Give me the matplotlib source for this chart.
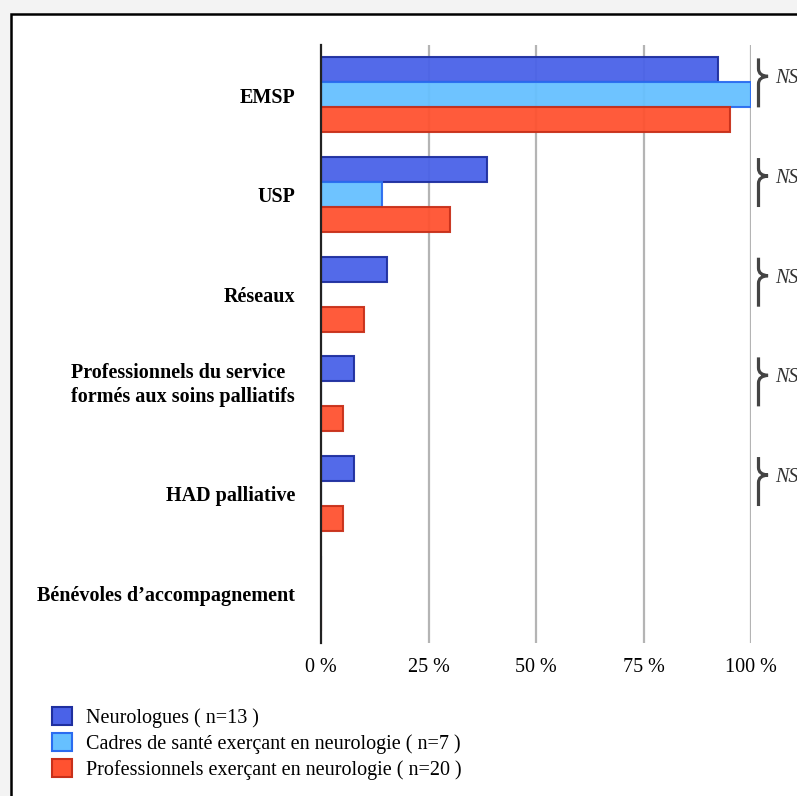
import numpy as np
import matplotlib
matplotlib.use("Agg")
import matplotlib.pyplot as plt
from matplotlib.patches import Rectangle, Patch, PathPatch
from matplotlib.path import Path

plt.rcParams['font.family'] = ['Liberation Serif', 'DejaVu Serif']

# Data (percentages)
categories = ['EMSP', 'USP', 'Réseaux',
              'Professionnels du service\nformés aux soins palliatifs',
              'HAD palliative', "Bénévoles d\u2019accompagnement"]
neurologues = [92.3, 38.5, 15.4, 7.7, 7.7, 0]
cadres = [100, 14.3, 0, 0, 0, 0]
professionnels = [95, 30, 10, 5, 5, 0]
significance = ['NS', 'NS', 'NS', 'NS', 'NS', '']
series_labels = ['Neurologues ( n=13 )',
                 'Cadres de santé exerçant en neurologie ( n=7 )',
                 'Professionnels exerçant en neurologie ( n=20 )']
xticks = [0, 25, 50, 75, 100]

fills = ['#4a62e8', '#66c0ff', '#ff5230']
edges = ['#1f2f9f', '#2b6cf0', '#c8301a']

W, H = 797, 796
fig = plt.figure(figsize=(W / 100, H / 100), dpi=100, facecolor='#f3f3f3')

# white page with black frame (continues past right/bottom edges)
fig.patches.append(Rectangle((10.7 / W, -0.1), 1.2, 1 - 14 / H + 0.1,
                             transform=fig.transFigure, facecolor='white',
                             edgecolor='black', linewidth=1.8, zorder=-5))

ax = fig.add_axes([321 / W, 1 - 643 / H, 430 / W, 598 / H])
ax.set_facecolor('none')

y = np.arange(len(categories))
bh = 0.25
for i, (vals, fc, ec) in enumerate(zip([neurologues, cadres, professionnels], fills, edges)):
    ax.barh(y + (i - 1) * bh, vals, height=bh, color=fc, edgecolor=ec,
            linewidth=1.5, alpha=0.95, zorder=3)

ax.set_xlim(0, 100)
ax.set_ylim(len(categories) - 0.5, -0.5)
ax.set_xticks(xticks)
ax.set_xticklabels([f'{t} %' for t in xticks], fontsize=14.5)
ax.tick_params(axis='x', length=0, pad=11)
ax.set_yticks([])
for s in ['top', 'right', 'bottom']:
    ax.spines[s].set_visible(False)
ax.spines['left'].set_color('#222222')
ax.spines['left'].set_linewidth(1.6)
ax.spines['left'].set_zorder(4)
for t in xticks[1:]:
    ax.axvline(t, color='#b4b4b4', linewidth=1.6, zorder=1)

# category labels
for yi, cat in zip(y, categories):
    dy = -0.09 if '\n' in cat else 0.03
    ax.text(-0.06, yi + dy, cat, transform=ax.get_yaxis_transform(),
            ha='right', va='center', multialignment='left',
            fontsize=14.5, fontweight='bold', linespacing=1.3)

# significance braces
ppx = 100 / 430      # data units per pixel in x
ppy = 1 / 99.7       # data units per pixel in y
brace = [(1.5, -24.5), (1.5, -14), (1.5, -7), (11, -6.5), (1.5, -6), (1.5, 1), (1.5, 24.5)]
codes = [Path.MOVETO, Path.LINETO, Path.CURVE3, Path.CURVE3,
         Path.CURVE3, Path.CURVE3, Path.LINETO]
for yi, sig in zip(y, significance):
    if not sig:
        continue
    cy = yi - 0.12
    x0 = 757 - 321
    verts = [((x0 + px) * ppx, cy + py * ppy) for px, py in brace]
    ax.add_patch(PathPatch(Path(verts, codes), facecolor='none',
                           edgecolor='#444444', linewidth=2.3,
                           clip_on=False, zorder=5))
    ax.text((775 - 321) * ppx, cy - 4 * ppy, sig, ha='left', va='center',
            fontsize=14.5, style='italic', color='#333333', clip_on=False)

handles = [Patch(facecolor=fc, edgecolor=ec, linewidth=1.5) for fc, ec in zip(fills, edges)]
fig.legend(handles, series_labels, loc='upper left',
           bbox_to_anchor=(52 / W, 1 - 707 / H), frameon=False,
           fontsize=14.5, handlelength=1.0, handleheight=1.0,
           handletextpad=0.7, labelspacing=0.25, borderpad=0, borderaxespad=0)

fig.savefig('out.png', dpi=100, facecolor=fig.get_facecolor())
